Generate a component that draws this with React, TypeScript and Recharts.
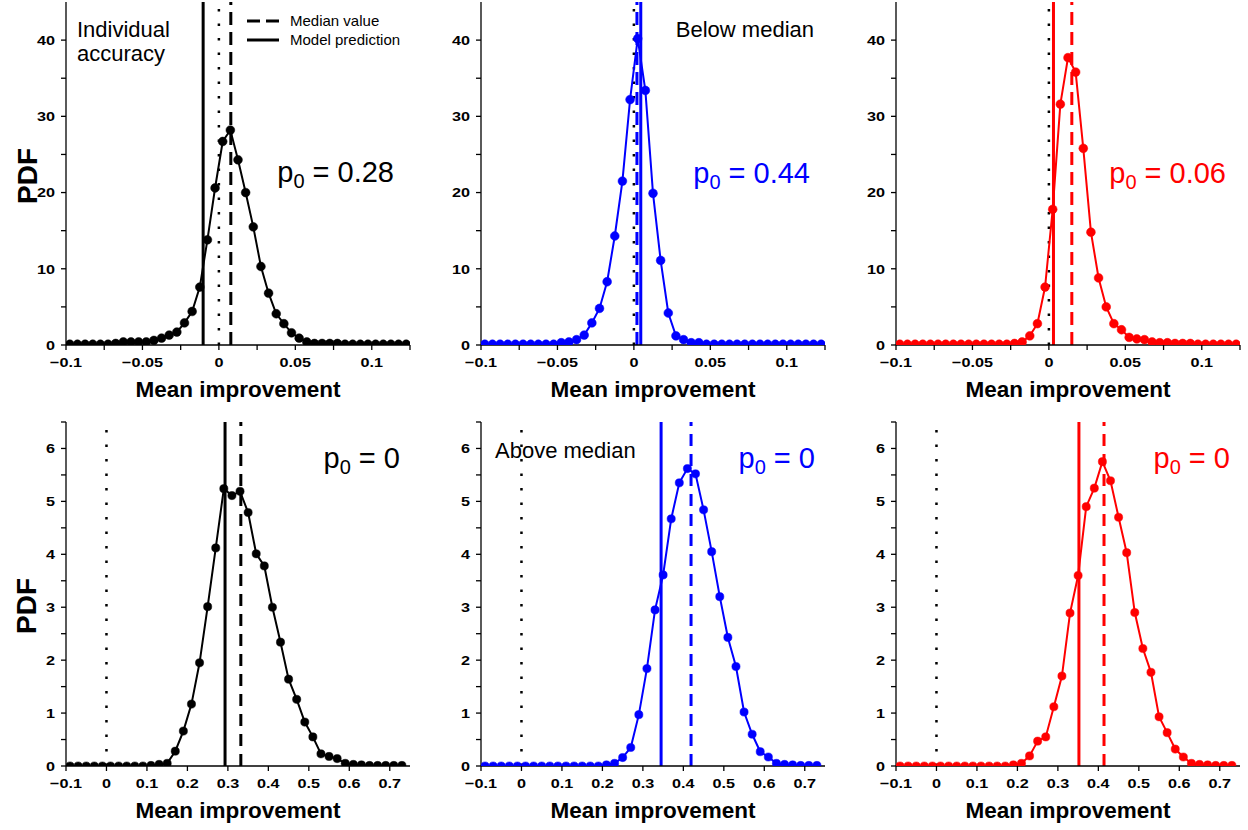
import React from 'react';
import { LineChart, Line, XAxis, YAxis, ReferenceLine } from 'recharts';

const FONT = '"Liberation Sans", Arial, Helvetica, sans-serif';

// bin centres of the histograms
const topBins = [
  -0.0975, -0.0925, -0.0875, -0.0825, -0.0775, -0.0725, -0.0675, -0.0625, -0.0575, -0.0525,
  -0.0475, -0.0425, -0.0375, -0.0325, -0.0275, -0.0225, -0.0175, -0.0125, -0.0075, -0.0025,
  0.0025, 0.0075, 0.0125, 0.0175, 0.0225, 0.0275, 0.0325, 0.0375, 0.0425, 0.0475,
  0.0525, 0.0575, 0.0625, 0.0675, 0.0725, 0.0775, 0.0825, 0.0875, 0.0925, 0.0975,
  0.1025, 0.1075, 0.1125, 0.1175, 0.1225,
];
const bottomBins = [
  -0.09, -0.07, -0.05, -0.03, -0.01, 0.01, 0.03, 0.05, 0.07, 0.09,
  0.11, 0.13, 0.15, 0.17, 0.19, 0.21, 0.23, 0.25, 0.27, 0.29,
  0.31, 0.33, 0.35, 0.37, 0.39, 0.41, 0.43, 0.45, 0.47, 0.49,
  0.51, 0.53, 0.55, 0.57, 0.59, 0.61, 0.63, 0.65, 0.67, 0.69,
  0.71, 0.73,
];

// PDF values
const pdfTopBlack = [
  0.1, 0.1, 0.1, 0.1, 0.1, 0.1, 0.2, 0.4, 0.4, 0.4,
  0.4, 0.6, 0.9, 1.3, 1.7, 2.9, 4.4, 7.6, 13.8, 20.6,
  26.7, 28.2, 24.3, 20.0, 15.5, 10.3, 6.8, 4.1, 2.8, 1.6,
  0.9, 0.4, 0.2, 0.2, 0.2, 0.2, 0.1, 0.1, 0.1, 0.1,
  0.1, 0.1, 0.1, 0.1, 0.1,
];
const pdfTopBlue = [
  0.1, 0.1, 0.1, 0.1, 0.1, 0.1, 0.1, 0.1, 0.1, 0.1,
  0.3, 0.4, 0.7, 1.3, 2.9, 4.8, 8.3, 14.3, 21.5, 32.2,
  40.2, 33.4, 19.9, 11.1, 4.2, 1.2, 0.7, 0.3, 0.3, 0.1,
  0.1, 0.1, 0.1, 0.1, 0.1, 0.1, 0.1, 0.1, 0.1, 0.1,
  0.1, 0.1, 0.1, 0.1, 0.1,
];
const pdfTopRed = [
  0.1, 0.1, 0.1, 0.1, 0.1, 0.1, 0.1, 0.1, 0.1, 0.1,
  0.1, 0.1, 0.1, 0.1, 0.1, 0.2, 0.4, 1.2, 2.8, 7.6,
  17.8, 31.6, 37.7, 35.8, 25.8, 14.8, 8.8, 5.0, 2.8, 2.0,
  1.0, 0.8, 0.7, 0.4, 0.3, 0.3, 0.2, 0.2, 0.2, 0.1,
  0.1, 0.1, 0.1, 0.1, 0.1,
];
const pdfBottomBlack = [
  0, 0, 0, 0, 0, 0, 0, 0, 0, 0,
  0.01, 0.03, 0.05, 0.28, 0.66, 1.17, 1.95, 3.01, 4.12, 5.24,
  5.11, 5.19, 4.79, 4.01, 3.78, 3.0, 2.34, 1.64, 1.26, 0.83,
  0.55, 0.23, 0.18, 0.14, 0.05, 0.03, 0.02, 0.01, 0.01, 0.01,
  0.01, 0.01,
];
const pdfBottomBlue = [
  0, 0, 0, 0, 0, 0, 0, 0, 0, 0,
  0, 0, 0, 0, 0, 0.02, 0.05, 0.16, 0.35, 0.97,
  1.84, 2.95, 3.61, 4.67, 5.35, 5.62, 5.52, 4.84, 4.05, 3.2,
  2.43, 1.88, 1.02, 0.6, 0.27, 0.17, 0.05, 0.03, 0.02, 0.01,
  0.01, 0.01,
];
const pdfBottomRed = [
  0, 0, 0, 0, 0, 0, 0, 0, 0, 0,
  0, 0, 0, 0, 0.02, 0.05, 0.19, 0.47, 0.55, 1.12,
  1.7, 2.89, 3.6, 4.9, 5.25, 5.75, 5.39, 4.7, 4.03, 2.9,
  2.22, 1.77, 0.93, 0.63, 0.32, 0.17, 0.05, 0.03, 0.02, 0.01,
  0.01, 0.01,
];

const colors = ['#000000', '#0000ff', '#ff0000'];
const medianTop = [0.0078, 0.002, 0.015];
const modelTop = [-0.0103, 0.0045, 0.003];
const medianBottom = [0.332, 0.419, 0.414];
const modelBottom = [0.293, 0.345, 0.352];
const p0Top = ['0.28', '0.44', '0.06'];
const p0Bottom = ['0', '0', '0'];

const topXTicks = [-0.1, -0.075, -0.05, -0.025, 0, 0.025, 0.05, 0.075, 0.1, 0.125];
const topXLabels = ['\u22120.1', '', '\u22120.05', '', '0', '', '0.05', '', '0.1', ''];
const topYTicks = [0, 5, 10, 15, 20, 25, 30, 35, 40];
const topYLabels = ['0', '', '10', '', '20', '', '30', '', '40'];
const bottomXTicks = [-0.1, 0, 0.1, 0.2, 0.3, 0.4, 0.5, 0.6, 0.7];
const bottomXLabels = ['\u22120.1', '0', '0.1', '0.2', '0.3', '0.4', '0.5', '0.6', '0.7'];
const bottomYTicks = [0, 0.5, 1, 1.5, 2, 2.5, 3, 3.5, 4, 4.5, 5, 5.5, 6, 6.5];
const bottomYLabels = ['0', '', '1', '', '2', '', '3', '', '4', '', '5', '', '6', ''];

interface RowCfg {
  top: number;
  plotH: number;
  xDomain: [number, number];
  yDomain: [number, number];
  xTicks: number[];
  xLabels: string[];
  yTicks: number[];
  yLabels: string[];
  rightTicks: number[];
  dotR: number;
  dash: string;
}

const topRow: RowCfg = {
  top: 0, plotH: 343, xDomain: [-0.1, 0.125], yDomain: [0, 45],
  xTicks: topXTicks, xLabels: topXLabels, yTicks: topYTicks, yLabels: topYLabels,
  rightTicks: [5, 10, 15, 20, 25, 30, 35, 40], dotR: 4.4, dash: '13 7',
};
const bottomRow: RowCfg = {
  top: 420, plotH: 344, xDomain: [-0.1, 0.75], yDomain: [0, 6.5],
  xTicks: bottomXTicks, xLabels: bottomXLabels, yTicks: bottomYTicks, yLabels: bottomYLabels,
  rightTicks: [5], dotR: 4.1, dash: '12 8',
};

const lookup = (ticks: number[], labels: string[], v: number) => {
  const i = ticks.findIndex(t => Math.abs(t - v) < 1e-9);
  return i >= 0 ? labels[i] : '';
};

const axisStyle = { stroke: '#000', strokeWidth: 1.3 };

// tick labels of the original are a bit wide, so stretch them horizontally
const makeTick = (ticks: number[], labels: string[], side: 'x' | 'y') => (props: any) => {
  const { x, y, payload } = props;
  const label = lookup(ticks, labels, payload.value);
  if (!label) return <g />;
  return (
    <text
      transform={`translate(${x} ${y}) scale(1.2 1)`}
      textAnchor={side === 'x' ? 'middle' : 'end'}
      dy={side === 'x' ? '0.71em' : '0.36em'}
      fill="#000"
      fontSize={13.5}
      fontWeight="bold"
      fontFamily={FONT}
    >
      {label}
    </text>
  );
};

interface PanelProps {
  bins: number[];
  values: number[];
  color: string;
  median: number;
  model: number;
  row: RowCfg;
  left: number;
}

const Panel: React.FC<PanelProps> = ({ bins, values, color, median, model, row, left }) => {
  const data = bins.map((x, i) => ({ x, pdf: values[i] }));
  return (
    <div style={{ position: 'absolute', left, top: row.top }}>
      <LineChart width={420} height={2 + row.plotH + 30} data={data} margin={{ top: 2, right: 10, bottom: 0, left: 0 }}>
        <XAxis
          xAxisId="b"
          type="number"
          dataKey="x"
          domain={row.xDomain}
          allowDataOverflow
          ticks={row.xTicks}
          interval={0}
          tick={makeTick(row.xTicks, row.xLabels, 'x')}
          tickSize={5}
          tickMargin={7}
          height={30}
          axisLine={axisStyle}
          tickLine={axisStyle}
        />
        <XAxis
          xAxisId="t"
          orientation="top"
          type="number"
          dataKey="x"
          domain={row.xDomain}
          allowDataOverflow
          height={0}
          tick={false}
          tickLine={false}
          axisLine={axisStyle}
        />
        <YAxis
          yAxisId="l"
          type="number"
          domain={row.yDomain}
          allowDataOverflow
          ticks={row.yTicks}
          interval={0}
          tick={makeTick(row.yTicks, row.yLabels, 'y')}
          tickSize={5}
          tickMargin={6}
          width={66}
          axisLine={axisStyle}
          tickLine={axisStyle}
        />
        <YAxis
          yAxisId="r"
          orientation="right"
          type="number"
          domain={row.yDomain}
          allowDataOverflow
          ticks={row.rightTicks}
          interval={0}
          tick={false}
          tickSize={2}
          width={0}
          axisLine={axisStyle}
          tickLine={axisStyle}
        />
        <ReferenceLine xAxisId="b" yAxisId="l" x={0} stroke="#000" strokeWidth={2.5} strokeDasharray="2.5 12" />
        <ReferenceLine xAxisId="b" yAxisId="l" x={median} stroke={color} strokeWidth={3} strokeDasharray={row.dash} />
        <ReferenceLine xAxisId="b" yAxisId="l" x={model} stroke={color} strokeWidth={3} />
        <Line
          xAxisId="b"
          yAxisId="l"
          type="linear"
          dataKey="pdf"
          stroke={color}
          strokeWidth={2}
          dot={{ r: row.dotR, fill: color, stroke: color, strokeWidth: 0.5 }}
          activeDot={false}
          isAnimationActive={false}
        />
      </LineChart>
    </div>
  );
};

const P0: React.FC<{ x: number; y: number; value: string; color: string }> = ({ x, y, value, color }) => (
  <text x={x} y={y} textAnchor="end" fill={color} fontSize={29}>
    p<tspan fontSize={20} dy={6}>0</tspan>
    <tspan dy={-6}>{` = ${value}`}</tspan>
  </text>
);

const lefts = [0, 415, 830];
const plotCentres = [238, 653, 1068];

export default function App() {
  return (
    <div style={{ position: 'absolute', left: 0, top: 0, width: 1248, height: 830, background: '#fff', fontFamily: FONT }}>
      <Panel bins={topBins} values={pdfTopBlack} color={colors[0]} median={medianTop[0]} model={modelTop[0]} row={topRow} left={lefts[0]} />
      <Panel bins={topBins} values={pdfTopBlue} color={colors[1]} median={medianTop[1]} model={modelTop[1]} row={topRow} left={lefts[1]} />
      <Panel bins={topBins} values={pdfTopRed} color={colors[2]} median={medianTop[2]} model={modelTop[2]} row={topRow} left={lefts[2]} />
      <Panel bins={bottomBins} values={pdfBottomBlack} color={colors[0]} median={medianBottom[0]} model={modelBottom[0]} row={bottomRow} left={lefts[0]} />
      <Panel bins={bottomBins} values={pdfBottomBlue} color={colors[1]} median={medianBottom[1]} model={modelBottom[1]} row={bottomRow} left={lefts[1]} />
      <Panel bins={bottomBins} values={pdfBottomRed} color={colors[2]} median={medianBottom[2]} model={modelBottom[2]} row={bottomRow} left={lefts[2]} />

      <svg width={1248} height={830} style={{ position: 'absolute', left: 0, top: 0, pointerEvents: 'none' }} fontFamily={FONT}>
        {/* axis titles */}
        {plotCentres.map(cx => (
          <g key={cx}>
            <text x={cx} y={397} textAnchor="middle" fontSize={22.5} fontWeight="bold">Mean improvement</text>
            <text x={cx} y={818} textAnchor="middle" fontSize={22.5} fontWeight="bold">Mean improvement</text>
          </g>
        ))}
        <text x={27} y={176 + 10} transform="rotate(-90 27 176)" textAnchor="middle" fontSize={28} fontWeight="bold">PDF</text>
        <text x={26} y={606 + 10} transform="rotate(-90 26 606)" textAnchor="middle" fontSize={28} fontWeight="bold">PDF</text>

        {/* panel annotations */}
        <text x={77} y={37} fontSize={22}>Individual</text>
        <text x={77} y={61} fontSize={22}>accuracy</text>
        <text x={814} y={37} textAnchor="end" fontSize={22}>Below median</text>
        <text x={495} y={458} fontSize={22}>Above median</text>

        {/* legend */}
        <line x1={247} y1={21} x2={279} y2={21} stroke="#000" strokeWidth={3} strokeDasharray="13 6" />
        <text x={290} y={26} fontSize={15}>Median value</text>
        <line x1={247} y1={40} x2={279} y2={40} stroke="#000" strokeWidth={3} />
        <text x={290} y={45} fontSize={15}>Model prediction</text>

        <P0 x={394} y={182} value={p0Top[0]} color={colors[0]} />
        <P0 x={810} y={183} value={p0Top[1]} color={colors[1]} />
        <P0 x={1226} y={183} value={p0Top[2]} color={colors[2]} />
        <P0 x={400} y={468} value={p0Bottom[0]} color={colors[0]} />
        <P0 x={815} y={468} value={p0Bottom[1]} color={colors[1]} />
        <P0 x={1230} y={468} value={p0Bottom[2]} color={colors[2]} />
      </svg>
    </div>
  );
}
